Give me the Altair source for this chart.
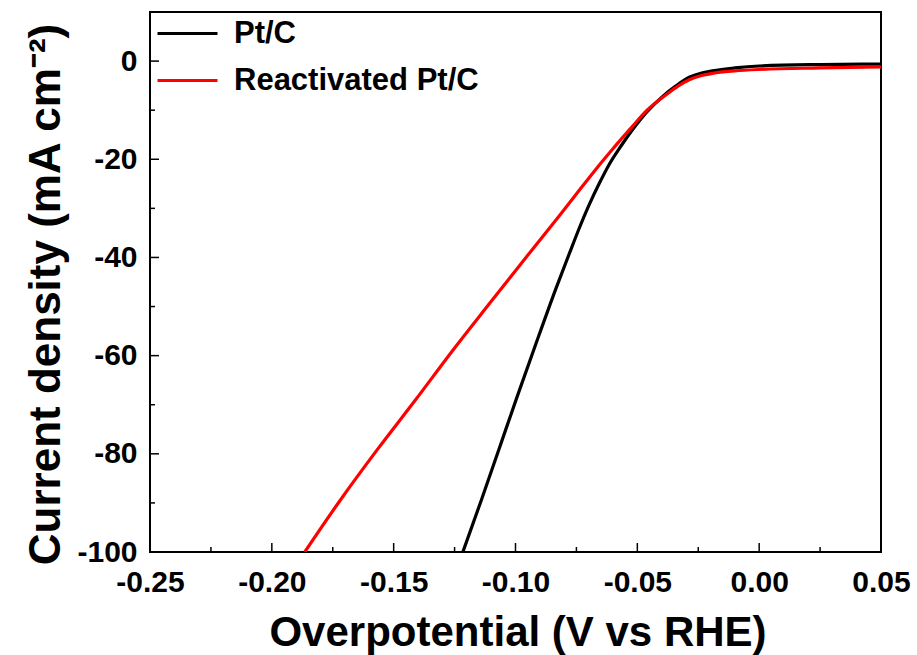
import altair as alt
import pandas as pd

# ---- data ----
series = ["Pt/C", "Reactivated Pt/C"]
colors = ["#000000", "#ff0000"]

pt_x = [-0.1216, -0.1140, -0.1066, -0.0995, -0.0922, -0.0833, -0.0779, -0.0738,
        -0.0697, -0.0656, -0.0615, -0.0567, -0.0520, -0.0460, -0.0396, -0.0340,
        -0.0287, -0.0240, -0.0192, -0.0100, 0.0000, 0.0250, 0.0500]
pt_y = [-100, -89.4, -78.8, -68.6, -58.4, -46.2, -39.2, -34.0,
        -29.2, -24.9, -21.0, -17.3, -14.0, -10.3, -7.2, -5.0,
        -3.3, -2.5, -2.0, -1.4, -1.0, -0.7, -0.6]

re_x = [-0.1865, -0.1720, -0.1568, -0.1410, -0.1257, -0.1110, -0.1000, -0.0925,
        -0.0820, -0.0724, -0.0660, -0.0601, -0.0520, -0.0460, -0.0383, -0.0330,
        -0.0287, -0.0240, -0.0192, -0.0100, 0.0000, 0.0250, 0.0500]
re_y = [-100, -89.5, -79.2, -69, -58.9, -49.6, -42.7, -38.0,
        -31.5, -25.4, -21.4, -17.9, -13.3, -10.0, -6.9, -5.0,
        -3.8, -3.0, -2.5, -2.0, -1.7, -1.4, -1.2]

x_major = [-0.25, -0.20, -0.15, -0.10, -0.05, 0.00, 0.05]
x_minor = [-0.225, -0.175, -0.125, -0.075, -0.025, 0.025]
y_major = [0, -20, -40, -60, -80, -100]
y_minor = [-10, -30, -50, -70, -90]

df = pd.DataFrame({
    "v": pt_x + re_x,
    "j": pt_y + re_y,
    "s": [series[0]] * len(pt_x) + [series[1]] * len(re_x),
})

W, H = 731, 540
FONT = "Liberation Sans"

xs = alt.Scale(domain=[-0.25, 0.05], nice=False, zero=False)
ys = alt.Scale(domain=[-100, 10], nice=False, zero=False)

x_axis = alt.Axis(
    values=x_major, title="Overpotential (V vs RHE)",
    labelExpr="datum.value < 0 ? '-' + format(abs(datum.value), '.2f') : format(datum.value, '.2f')",
    ticks=False, tickSize=0, domain=False, grid=False,
    labelFont=FONT, labelFontSize=30, labelFontWeight="bold", labelColor="black",
    labelPadding=15, labelFlush=False,
    titleFont=FONT, titleFontSize=42, titleFontWeight="bold", titleColor="black",
    titleX=W / 2 + 2, titleY=93, titleAlign="center", titleBaseline="alphabetic",
)
y_axis = alt.Axis(
    values=y_major, title="Current density (mA cm\u207b\u00b2)",
    labelExpr="datum.value < 0 ? '-' + format(abs(datum.value), 'd') : format(datum.value, 'd')",
    ticks=False, tickSize=0, domain=False, grid=False,
    labelFont=FONT, labelFontSize=30, labelFontWeight="bold", labelColor="black",
    labelPadding=13, labelFlush=False,
    titleFont=FONT, titleFontSize=44, titleFontWeight="bold", titleColor="black",
    titleAngle=270, titleX=-91, titleY=282, titleAlign="center", titleBaseline="alphabetic",
)

lines = alt.Chart(df).mark_line(strokeWidth=3.2, clip=True, interpolate="monotone").encode(
    x=alt.X("v:Q", scale=xs, axis=x_axis),
    y=alt.Y("j:Q", scale=ys, axis=y_axis),
    color=alt.Color(
        "s:N",
        scale=alt.Scale(domain=series, range=colors),
        legend=alt.Legend(
            title=None, orient="none", legendX=5.5, legendY=-10.5,
            symbolType="stroke", symbolSize=3600, symbolStrokeWidth=3.2,
            labelFont=FONT, labelFontSize=31, labelFontWeight="bold", labelColor="black",
            labelOffset=14.5, rowPadding=-22, padding=0, labelLimit=600,
        ),
    ),
)

tick_style = dict(color="black", strokeWidth=1.5)
xmaj = alt.Chart(pd.DataFrame({"v": x_major})).mark_rule(**tick_style).encode(
    x=alt.X("v:Q", scale=xs, axis=x_axis), y=alt.value(H), y2=alt.value(H - 9))
xmin = alt.Chart(pd.DataFrame({"v": x_minor})).mark_rule(**tick_style).encode(
    x=alt.X("v:Q", scale=xs, axis=x_axis), y=alt.value(H), y2=alt.value(H - 5))
ymaj = alt.Chart(pd.DataFrame({"j": y_major})).mark_rule(**tick_style).encode(
    y=alt.Y("j:Q", scale=ys, axis=y_axis), x=alt.value(0), x2=alt.value(9))
ymin = alt.Chart(pd.DataFrame({"j": y_minor})).mark_rule(**tick_style).encode(
    y=alt.Y("j:Q", scale=ys, axis=y_axis), x=alt.value(0), x2=alt.value(5))

chart = alt.layer(lines, xmaj, xmin, ymaj, ymin).properties(
    width=W, height=H,
    autosize=alt.AutoSizeParams(type="none"),
    padding={"left": 150, "top": 12, "right": 36, "bottom": 103},
    background="white",
).configure_view(stroke="black", strokeWidth=2)

chart.save("out.html", embed_options={"renderer": "svg", "actions": False})
